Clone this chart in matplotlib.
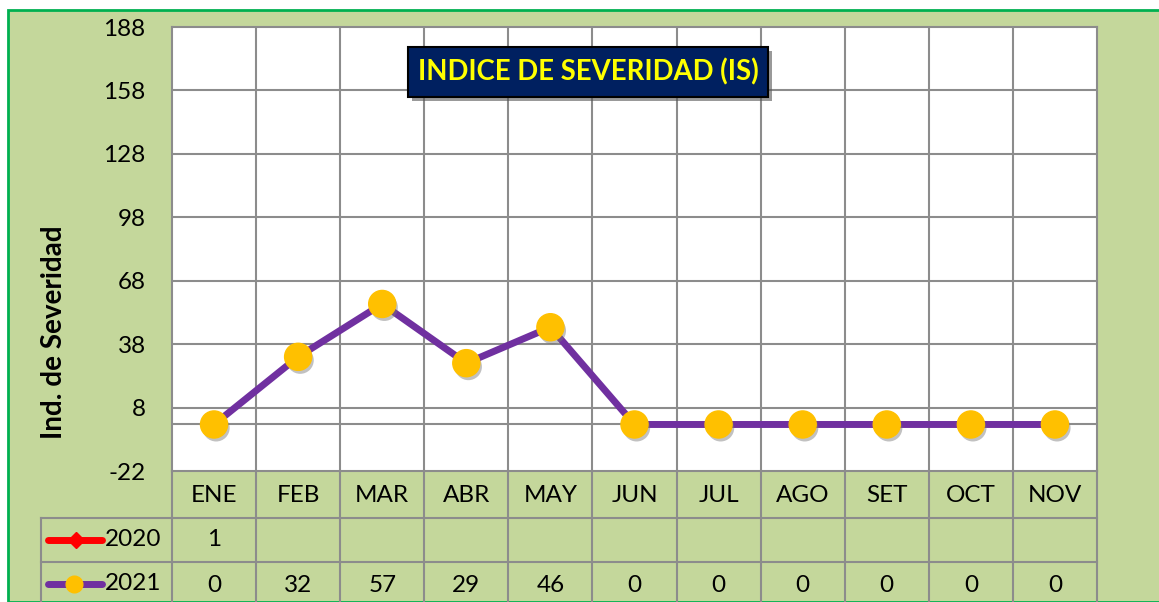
import numpy as np
import matplotlib
matplotlib.use("Agg")
from matplotlib import pyplot as plt
from matplotlib.patches import Rectangle
from matplotlib.lines import Line2D
import matplotlib.patheffects as pe

months = ["ENE", "FEB", "MAR", "ABR", "MAY", "JUN", "JUL", "AGO", "SET", "OCT", "NOV"]
is_2020 = [1, None, None, None, None, None, None, None, None, None, None]
is_2021 = [0, 32, 57, 29, 46, 0, 0, 0, 0, 0, 0]
yticks = [-22, 8, 38, 68, 98, 128, 158, 188]

W, H = 1159, 602
green = "#C4D79B"
grid = "#8C8C8C"
purple = "#7030A0"
yellow = "#FFC000"
red = "#FF0000"
fs = 17.5

plt.rcParams["font.family"] = ["Lato", "DejaVu Sans"]

fig = plt.figure(figsize=(W / 100, H / 100), dpi=100, facecolor="white")

def fx(x):
    return x / W

def fy(y):
    return 1 - y / H

# green chart background with border
fig.add_artist(Rectangle((fx(8), 0), 1, fy(10), transform=fig.transFigure,
                         facecolor=green, edgecolor="#00B050", lw=2, zorder=0))

ax = fig.add_axes([fx(172), fy(471), fx(1097) - fx(172), (471 - 27) / H])
ax.set_facecolor("white")
x = np.arange(len(months))
ax.set_xlim(-0.5, len(months) - 0.5)
ax.set_ylim(yticks[0], yticks[-1])
ax.set_yticks(yticks)
ax.set_yticklabels([str(t) for t in yticks], fontsize=fs)
ax.tick_params(axis="y", length=0, pad=19)
ax.set_xticks([])
for s in ax.spines.values():
    s.set_color(grid)
    s.set_linewidth(1.5)
for t in yticks[1:-1]:
    ax.axhline(t, color=grid, lw=1.5, zorder=1)
ax.axhline(0, color=grid, lw=1.5, zorder=1)
for i in range(len(months) - 1):
    ax.axvline(i + 0.5, color=grid, lw=1.5, zorder=1)

ax.set_ylabel("Ind. de Severidad", fontsize=20, fontweight="bold")
ax.yaxis.set_label_coords((67 - 172) / 925, (471 - 332) / 444)

y20 = np.array([np.nan if v is None else v for v in is_2020], dtype=float)
ax.plot(x, y20, color=red, lw=5, marker="D", ms=7, zorder=3)
ax.plot(x, is_2021, color=purple, lw=5, zorder=4, solid_joinstyle="miter")
ax.plot(x, is_2021, ls="none", marker="o", ms=19.5, mfc=yellow, mec=yellow, zorder=5,
        path_effects=[pe.SimplePatchShadow(offset=(1.5, -2.5), shadow_rgbFace="#777777", alpha=0.45), pe.Normal()])

# title box
tx0, ty0, tx1, ty1 = 408, 47, 768, 97
fig.add_artist(Rectangle((fx(tx0 + 4), fy(ty1 + 4)), fx(tx1 - tx0), (ty1 - ty0) / H,
                         transform=fig.transFigure, facecolor="#555555", alpha=0.6, lw=0, zorder=9))
fig.add_artist(Rectangle((fx(tx0), fy(ty1)), fx(tx1 - tx0), (ty1 - ty0) / H,
                         transform=fig.transFigure, facecolor="#002060", edgecolor="black", lw=1.5, zorder=10))
fig.text(fx((tx0 + tx1) / 2), fy((ty0 + ty1) / 2), "INDICE DE SEVERIDAD (IS)", color="#FFFF00",
         fontsize=19.8, fontweight="bold", ha="center", va="center", zorder=11)

# data table below the plot
trans = ax.get_xaxis_transform()
ph = 471 - 27
def ay(y):
    return -(y - 471) / ph

tkw = dict(transform=trans, clip_on=False, color=grid, lw=1.5)
ax.add_line(Line2D([-0.5, len(months) - 0.5], [ay(518)] * 2, **tkw))
ax.add_line(Line2D([-0.5, len(months) - 0.5], [ay(562)] * 2, **tkw))
for i in range(len(months) + 1):
    ax.add_line(Line2D([i - 0.5] * 2, [0, ay(606)], **tkw))
for i, m in enumerate(months):
    ax.text(i, ay(495), m, transform=trans, ha="center", va="center", fontsize=fs)
    if is_2020[i] is not None:
        ax.text(i, ay(540), str(is_2020[i]), transform=trans, ha="center", va="center", fontsize=fs)
    ax.text(i, ay(585), str(is_2021[i]), transform=trans, ha="center", va="center", fontsize=fs)

# legend column
fkw = dict(transform=fig.transFigure, color=grid, lw=1.5)
fig.add_artist(Line2D([fx(41), fx(172)], [fy(518)] * 2, **fkw))
fig.add_artist(Line2D([fx(41), fx(172)], [fy(562)] * 2, **fkw))
fig.add_artist(Line2D([fx(41)] * 2, [fy(518), 0], **fkw))
fig.add_artist(Line2D([fx(48), fx(102)], [fy(540)] * 2, transform=fig.transFigure,
                      color=red, lw=5, solid_capstyle="round"))
fig.add_artist(Line2D([fx(76)], [fy(540)], transform=fig.transFigure, color=red, marker="D", ms=8))
fig.add_artist(Line2D([fx(48), fx(102)], [fy(584)] * 2, transform=fig.transFigure,
                      color=purple, lw=5, solid_capstyle="round"))
fig.add_artist(Line2D([fx(74)], [fy(584)], transform=fig.transFigure, color=yellow, marker="o", ms=12))
fig.text(fx(105), fy(540), "2020", fontsize=fs, va="center", ha="left")
fig.text(fx(105), fy(584), "2021", fontsize=fs, va="center", ha="left")

fig.savefig("out.png", dpi=100, facecolor=fig.get_facecolor())
